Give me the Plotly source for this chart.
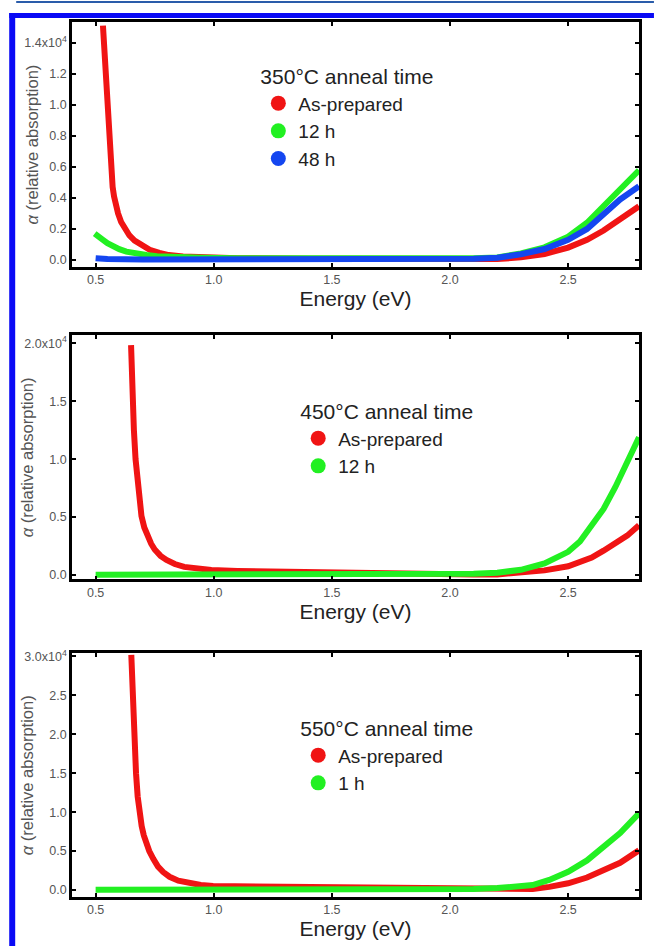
import plotly.graph_objects as go

# ---------------- data (alpha in units of 10^4) ----------------
energy_350_asprep = [0.531, 0.535, 0.538, 0.541, 0.5445, 0.548, 0.5515, 0.555, 0.559, 0.563, 0.567, 0.572, 0.578,
                     0.585, 0.595, 0.608, 0.623, 0.643, 0.665, 0.695, 0.729, 0.77, 0.81, 0.87, 0.93, 1.0, 1.1,
                     1.4, 1.7, 2.0, 2.1, 2.2, 2.3, 2.4, 2.5, 2.58, 2.65, 2.72, 2.8]
alpha_350_asprep = [1.51, 1.40, 1.30, 1.20, 1.10, 1.00, 0.90, 0.80, 0.70, 0.61, 0.54, 0.47, 0.41,
                    0.355, 0.30, 0.245, 0.20, 0.158, 0.125, 0.092, 0.066, 0.046, 0.032, 0.023, 0.018, 0.015, 0.012,
                    0.008, 0.006, 0.005, 0.005, 0.006, 0.017, 0.039, 0.08, 0.13, 0.19, 0.26, 0.346]

energy_350_12h = [0.496, 0.51, 0.531, 0.55, 0.573, 0.60, 0.63, 0.67, 0.715, 0.76, 0.81, 0.88, 0.95, 1.1, 1.4, 1.7,
                  2.0, 2.1, 2.2, 2.3, 2.4, 2.5, 2.58, 2.65, 2.72, 2.8]
alpha_350_12h = [0.17, 0.15, 0.13, 0.108, 0.086, 0.07, 0.054, 0.041, 0.032, 0.025, 0.02, 0.017, 0.015, 0.012, 0.01,
                 0.01, 0.01, 0.012, 0.017, 0.043, 0.082, 0.15, 0.24, 0.344, 0.45, 0.578]

energy_350_48h = [0.5, 0.55, 0.7, 1.0, 1.5, 2.0, 2.1, 2.2, 2.3, 2.4, 2.5, 2.58, 2.65, 2.72, 2.8]
alpha_350_48h = [0.012, 0.006, 0.004, 0.004, 0.004, 0.006, 0.009, 0.015, 0.037, 0.071, 0.13, 0.2, 0.29, 0.39, 0.475]

energy_450_asprep = [0.65, 0.653, 0.657, 0.662, 0.669, 0.675, 0.68, 0.687, 0.694, 0.706, 0.72, 0.735, 0.75, 0.775,
                     0.80, 0.835, 0.875, 0.93, 0.99, 1.1, 1.2, 1.5, 1.8, 2.0, 2.1, 2.2, 2.3, 2.4, 2.5, 2.6, 2.65,
                     2.7, 2.75, 2.8]
alpha_450_asprep = [1.985, 1.75, 1.50, 1.25, 1.0, 0.85, 0.74, 0.61, 0.51, 0.41, 0.33, 0.27, 0.22, 0.165,
                    0.13, 0.095, 0.07, 0.053, 0.043, 0.035, 0.031, 0.025, 0.02, 0.01, 0.005, 0.005, 0.02, 0.04,
                    0.075, 0.15, 0.21, 0.27, 0.34, 0.43]

energy_450_12h = [0.5, 1.0, 1.5, 2.0, 2.1, 2.2, 2.3, 2.4, 2.5, 2.55, 2.6, 2.65, 2.7, 2.75, 2.8]
alpha_450_12h = [0.003, 0.003, 0.003, 0.004, 0.01, 0.02, 0.045, 0.1, 0.2, 0.29, 0.42, 0.57, 0.76, 0.97, 1.19]

energy_550_asprep = [0.651, 0.6565, 0.6625, 0.671, 0.678, 0.685, 0.695, 0.704, 0.716, 0.727, 0.744, 0.764, 0.786,
                     0.813, 0.85, 0.898, 0.945, 0.997, 1.15, 1.3, 1.6, 2.0, 2.1, 2.2, 2.35, 2.42, 2.5, 2.58,
                     2.65, 2.72, 2.8]
alpha_550_asprep = [3.02, 2.5, 2.0, 1.5, 1.2, 1.0, 0.82, 0.7, 0.58, 0.5, 0.4, 0.3, 0.23,
                    0.17, 0.12, 0.085, 0.065, 0.05, 0.045, 0.04, 0.03, 0.01, 0.005, 0.005, 0.013, 0.04, 0.086, 0.16,
                    0.257, 0.35, 0.51]

energy_550_1h = [0.5, 1.0, 1.5, 2.0, 2.1, 2.2, 2.35, 2.42, 2.5, 2.58, 2.65, 2.72, 2.8]
alpha_550_1h = [0.003, 0.003, 0.003, 0.005, 0.012, 0.025, 0.064, 0.13, 0.235, 0.38, 0.556, 0.73, 0.985]

x_tickvals = [0.5, 1.0, 1.5, 2.0, 2.5]
x_ticktext = ["0.5", "1.0", "1.5", "2.0", "2.5"]
y1_tickvals = [0.0, 0.2, 0.4, 0.6, 0.8, 1.0, 1.2, 1.4]
y1_ticktext = ["0.0", "0.2", "0.4", "0.6", "0.8", "1.0", "1.2", "1.4x10<sup>4</sup>"]
y2_tickvals = [0.0, 0.5, 1.0, 1.5, 2.0]
y2_ticktext = ["0.0", "0.5", "1.0", "1.5", "2.0x10<sup>4</sup>"]
y3_tickvals = [0.0, 0.5, 1.0, 1.5, 2.0, 2.5, 3.0]
y3_ticktext = ["0.0", "0.5", "1.0", "1.5", "2.0", "2.5", "3.0x10<sup>4</sup>"]

legend_titles = ["350°C anneal time", "450°C anneal time", "550°C anneal time"]
x_title = "Energy (eV)"
y_title = "<i>α</i> (relative absorption)"

RED = "#f01414"
GREEN = "#22f022"
BLUE = "#1446f0"
FONT = "Liberation Sans, Arial"

W, H = 654, 946
ML, MR, MT, MB = 72, 13, 22, 49
PW = W - ML - MR
PH = H - MT - MB


def px_x(p):
    return (p - ML) / PW


def px_y(p):
    return (H - MB - p) / PH


fig = go.Figure()

panels = [
    ("x", "y", "legend", [(energy_350_asprep, alpha_350_asprep, RED, "As-prepared"),
                          (energy_350_12h, alpha_350_12h, GREEN, "12 h"),
                          (energy_350_48h, alpha_350_48h, BLUE, "48 h")]),
    ("x2", "y2", "legend2", [(energy_450_asprep, alpha_450_asprep, RED, "As-prepared"),
                             (energy_450_12h, alpha_450_12h, GREEN, "12 h")]),
    ("x3", "y3", "legend3", [(energy_550_asprep, alpha_550_asprep, RED, "As-prepared"),
                             (energy_550_1h, alpha_550_1h, GREEN, "1 h")]),
]

for xa, ya, lg, series in panels:
    for ex, al, col, name in series:
        fig.add_trace(go.Scatter(x=ex, y=al, mode="lines", xaxis=xa, yaxis=ya,
                                 line=dict(color=col, width=6),
                                 showlegend=False, hoverinfo="skip"))
    for ex, al, col, name in series:
        fig.add_trace(go.Scatter(x=[None], y=[None], mode="markers", xaxis=xa, yaxis=ya,
                                 marker=dict(color=col, size=15), name=name, legend=lg))

# panel pixel extents (top, bottom)
panel_px = [(22, 266.7), (335, 579.3), (653.3, 896.7)]
y_ranges = [[-0.043, 1.533], [-0.037, 2.072], [-0.086, 3.04]]
y_ticks = [(y1_tickvals, y1_ticktext), (y2_tickvals, y2_ticktext), (y3_tickvals, y3_ticktext)]

axis_common = dict(showline=True, linecolor="black", linewidth=2.5, mirror="allticks",
                   ticks="inside", ticklen=4, tickwidth=2, tickcolor="black",
                   showgrid=False, zeroline=False,
                   tickfont=dict(family=FONT, size=12.5, color="#555555"))

layout = dict(width=W, height=H, margin=dict(l=ML, r=MR, t=MT, b=MB),
              plot_bgcolor="white", paper_bgcolor="white")

for i, (top, bot) in enumerate(panel_px):
    sfx = "" if i == 0 else str(i + 1)
    dom = [px_y(bot), px_y(top)]
    layout["xaxis" + sfx] = dict(domain=[0, 1], range=[0.4, 2.8], anchor="y" + sfx,
                                 tickvals=x_tickvals, ticktext=x_ticktext,
                                 title=dict(text=x_title, standoff=0,
                                            font=dict(family=FONT, size=21, color="#222222")),
                                 **axis_common)
    layout["yaxis" + sfx] = dict(domain=dom, range=y_ranges[i], anchor="x" + sfx,
                                 tickvals=y_ticks[i][0], ticktext=y_ticks[i][1], **axis_common)

legend_pos = [(259, 57), (299, 392), (299, 709)]
for i, (lx, ly) in enumerate(legend_pos):
    key = "legend" if i == 0 else "legend" + str(i + 1)
    layout[key] = dict(x=px_x(lx), y=px_y(ly), xanchor="left", yanchor="top",
                       bgcolor="rgba(0,0,0,0)",
                       title=dict(text=legend_titles[i],
                                  font=dict(family=FONT, size=21, color="#222222")),
                       font=dict(family=FONT, size=19, color="#222222"),
                       itemsizing="trace")

annotations = []
ytitle_x = [32, 27, 27]
for i, (top, bot) in enumerate(panel_px):
    annotations.append(dict(text=y_title, textangle=-90,
                            xref="paper", yref="paper", x=px_x(ytitle_x[i]), y=px_y((top + bot) / 2),
                            xanchor="center", yanchor="middle", showarrow=False,
                            font=dict(family=FONT, size=16.5, color="#555555")))
layout["annotations"] = annotations

# decorative page frame (blue)
layout["shapes"] = [
    dict(type="rect", xref="paper", yref="paper", x0=px_x(9), x1=px_x(15), y0=px_y(H + 2), y1=px_y(13),
         fillcolor="#0a0af5", line=dict(width=0), layer="above"),
    dict(type="rect", xref="paper", yref="paper", x0=px_x(9), x1=px_x(W + 2), y0=px_y(18), y1=px_y(13),
         fillcolor="#0a0af5", line=dict(width=0), layer="above"),
    dict(type="line", xref="paper", yref="paper", x0=px_x(16), x1=px_x(W + 2), y0=px_y(2), y1=px_y(2),
         line=dict(color="#2a5caa", width=2), layer="above"),
]

fig.update_layout(**layout)
fig.write_html("out.html")
